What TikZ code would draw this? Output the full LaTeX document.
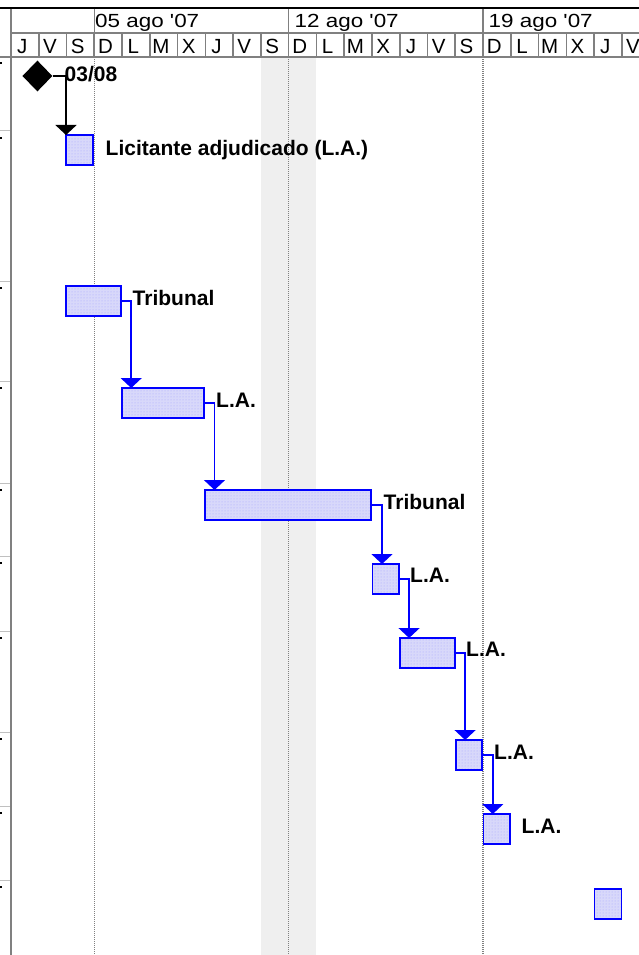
\documentclass[tikz,border=0pt]{standalone}
\usepackage{fontspec}
\setmainfont{Liberation Sans}
\newfontfamily\hdrfont[FakeStretch=1.18]{Liberation Sans}
\usetikzlibrary{shapes.geometric,arrows.meta,patterns,calc}
\definecolor{gridgray}{HTML}{808080}
\definecolor{lightgridgray}{HTML}{C0C0C0}
\definecolor{bandgray}{HTML}{EFEFEF}
\definecolor{barfill}{HTML}{D8D8FA}
\definecolor{barblue}{HTML}{0000FF}
\begin{document}
\begin{tikzpicture}[x=1pt,y=-1pt,
  bar/.style={draw=barblue, line width=1.6pt, preaction={fill=barfill},
    preaction={pattern=dots, pattern color=barblue!35},
    minimum height=30pt, inner sep=0pt, outer sep=0pt, anchor=north west},
  conn/.style={draw=barblue, line width=1.5pt, -{Triangle[width=21pt,length=10pt]}},
  mconn/.style={draw=black, line width=1.5pt, -{Triangle[width=21pt,length=10pt]}},
  lbl/.style={anchor=base west, inner sep=0pt, font=\fontsize{21}{21}\selectfont\bfseries},
  weeklbl/.style={anchor=base west, inner sep=0pt, font=\hdrfont\fontsize{19}{19}\selectfont},
  daylbl/.style={anchor=base, inner sep=0pt, font=\fontsize{20.5}{20.5}\selectfont},
  gridline/.style={draw=gridgray, line width=1.6pt},
  weekdots/.style={draw=gridgray, line width=1.1pt, dash pattern=on 1pt off 1pt},
  leftsep/.style={draw=lightgridgray, line width=1pt},
  tickmark/.style={fill=black}
]
\useasboundingbox (0,0) rectangle (639,955);
\clip (0,0) rectangle (639,955);
\fill[white] (0,0) rectangle (639,955);

% non-working band
\fill[bandgray] (260.9,57.3) rectangle (316.4,955);

% week dotted lines in body
\foreach \x in {94.3,288.6,483} {
  \draw[weekdots] (\x,59) -- (\x,955);
}

% header
\draw[black, line width=2pt] (0,8.3) -- (639,8.3);
\draw[gridline] (11,33.3) -- (639,33.3);
\draw[gridline] (0,57.3) -- (639,57.3);
\foreach \x in {94.3,288.6,483} {
  \draw[gridline] (\x,9) -- (\x,33.3);
}
\foreach \k in {1,...,22} {
  \draw[gridline] ({11+27.765*\k},33.3) -- ({11+27.765*\k},57.3);
}
\draw[draw=gridgray, line width=2pt] (11,9) -- (11,955);

\node[weeklbl] (w1) at (95,27.5) {05 ago '07};
\node[weeklbl] (w2) at (294.5,27.5) {12 ago '07};
\node[weeklbl] (w3) at (488.5,27.5) {19 ago '07};

\foreach \L [count=\k from 0] in {J,V,S,D,L,M,X,J,V,S,D,L,M,X,J,V,S,D,L,M,X,J,V} {
  \node[daylbl] (d\k) at ({11+27.765*\k+11.2},54) {\L};
}

% left sheet remnants
\foreach \y in {131,281,381,483,556,631,732,806,880} {
  \draw[leftsep] (0,\y) -- (10,\y);
}
\foreach \y in {62,136.5,286.5,386.5,488.5,561.5,636.5,737.5,811.5,885.5} {
  \fill[tickmark] (0,\y) rectangle (2,\y+2.5);
}

% milestone
\node[diamond, fill=black, minimum width=30pt, minimum height=31pt, inner sep=0pt] (m1) at (37.4,76) {};

% bars
\node[bar, minimum width=26.7pt] (b2) at (66,135) {};
\node[bar, minimum width=55pt] (b3) at (66,286) {};
\node[bar, minimum width=82.4pt] (b4) at (121.7,388) {};
\node[bar, minimum width=166.3pt] (b5) at (204.7,490) {};
\node[bar, minimum width=26.4pt] (b6) at (372.4,564) {};
\node[bar, minimum width=55pt] (b7) at (399.7,638) {};
\node[bar, minimum width=26.5pt] (b8) at (455.7,740) {};
\node[bar, minimum width=26.6pt] (b9) at (483.4,814) {};
\node[bar, minimum width=27.2pt] (b10) at (594.4,888.7) {};

% connectors
\draw[mconn] (m1.east) -| (b2.north west);
\draw[conn] (b3.east) -| ($(b4.north west)+(9.5,0)$);
\draw[conn] (b4.east) -| ($(b5.north west)+(9.8,0)$);
\draw[conn] (b5.east) -| ($(b6.north west)+(9.6,0)$);
\draw[conn] (b6.east) -| ($(b7.north west)+(9.4,0)$);
\draw[conn] (b7.east) -| ($(b8.north west)+(9.4,0)$);
\draw[conn] (b8.east) -| ($(b9.north west)+(9.4,0)$);

% labels
\node[lbl] (t1) at (64.5,81.7) {03/08};
\node[lbl] (t2) at (105.5,155) {Licitante adjudicado (L.A.)};
\node[lbl] (t3) at (132.5,305) {Tribunal};
\node[lbl] (t4) at (216,407.3) {L.A.};
\node[lbl] (t5) at (383.5,509) {Tribunal};
\node[lbl] (t6) at (410,582.7) {L.A.};
\node[lbl] (t7) at (466,656.7) {L.A.};
\node[lbl] (t8) at (494,759.3) {L.A.};
\node[lbl] (t9) at (521.5,833.3) {L.A.};
\end{tikzpicture}
\end{document}
